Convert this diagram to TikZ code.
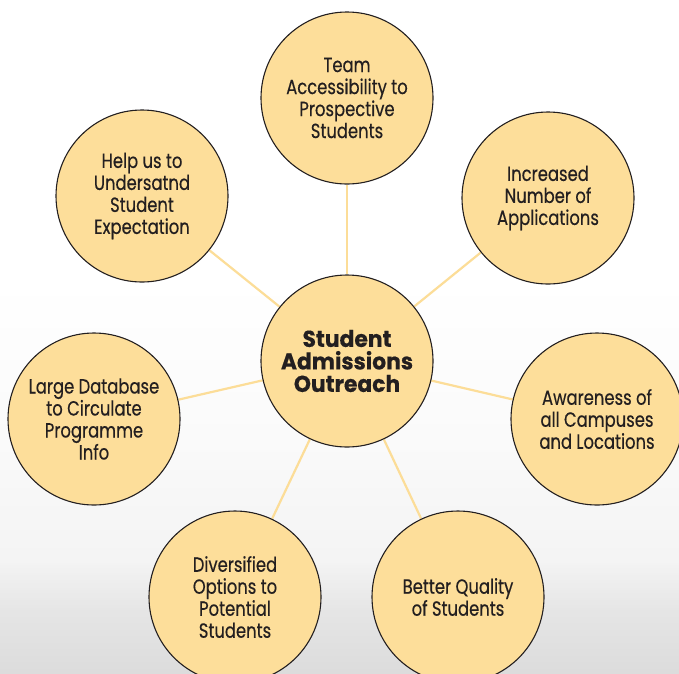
\documentclass[tikz,border=0pt]{standalone}
\usepackage{fontspec}
\setmainfont{Poppins}[FakeStretch=0.8,FakeBold=0.4,
  BoldFeatures={FakeStretch=0.95}]
\usetikzlibrary{backgrounds}
\definecolor{bubblefill}{HTML}{FDDE9A}
\definecolor{linkcol}{HTML}{FCDD98}
\definecolor{inkcol}{HTML}{231F20}

\begin{document}
\begin{tikzpicture}[x=1pt,y=-1pt,
  bubble/.style={draw=inkcol,line width=1.1pt,fill=bubblefill,circle,
    minimum size=172pt,inner sep=0pt,align=center,text=inkcol,
    font=\fontsize{20.5}{22}\selectfont},
  hubble/.style={bubble,font=\fontsize{23}{22.5}\selectfont\bfseries},
  link/.style={draw=linkcol,line width=2.2pt}]
\useasboundingbox (0,0) rectangle (679,673);
\node[hubble] (hub) at (347,361) {Student\\Admissions\\Outreach};
\node[bubble] (team) at (347,98) {Team\\Accessibility to\\Prospective\\Students};
\node[bubble] (help) at (142,196) {Help us to\\Undersatnd\\Student\\Expectation};
\node[bubble] (incr) at (548,198) {Increased\\Number of\\Applications};
\node[bubble] (large) at (94,419) {Large Database\\to Circulate\\Programme\\Info};
\node[bubble] (aware) at (597,419) {Awareness of\\all Campuses\\and Locations};
\node[bubble] (divers) at (235,597) {Diversified\\Options to\\Potential\\Students};
\node[bubble] (better) at (458,597) {Better Quality\\of Students};
\begin{scope}[on background layer]
% paper: white on top, greying towards the bottom
\fill[white] (0,0) rectangle (679,673);
\foreach \ya/\yb/\ga/\gb in {280/440/0/4,440/560/4/9,560/610/9/20,610/675/20/28}{
  \foreach \t in {0,0.05,...,1.0}{
    \pgfmathsetmacro\yy{\ya+\t*(\yb-\ya)}
    \pgfmathsetmacro\gg{\ga+\t*(\gb-\ga)}
    \fill[gray!\gg] (0,\yy) rectangle (679,\yy+9);
  }
}
\path[link] (hub) -- (team);
\path[link] (hub) -- (help);
\path[link] (hub) -- (incr);
\path[link] (hub) -- (large);
\path[link] (hub) -- (aware);
\path[link] (hub) -- (divers);
\path[link] (hub) -- (better);
\end{scope}
\end{tikzpicture}
\end{document}
